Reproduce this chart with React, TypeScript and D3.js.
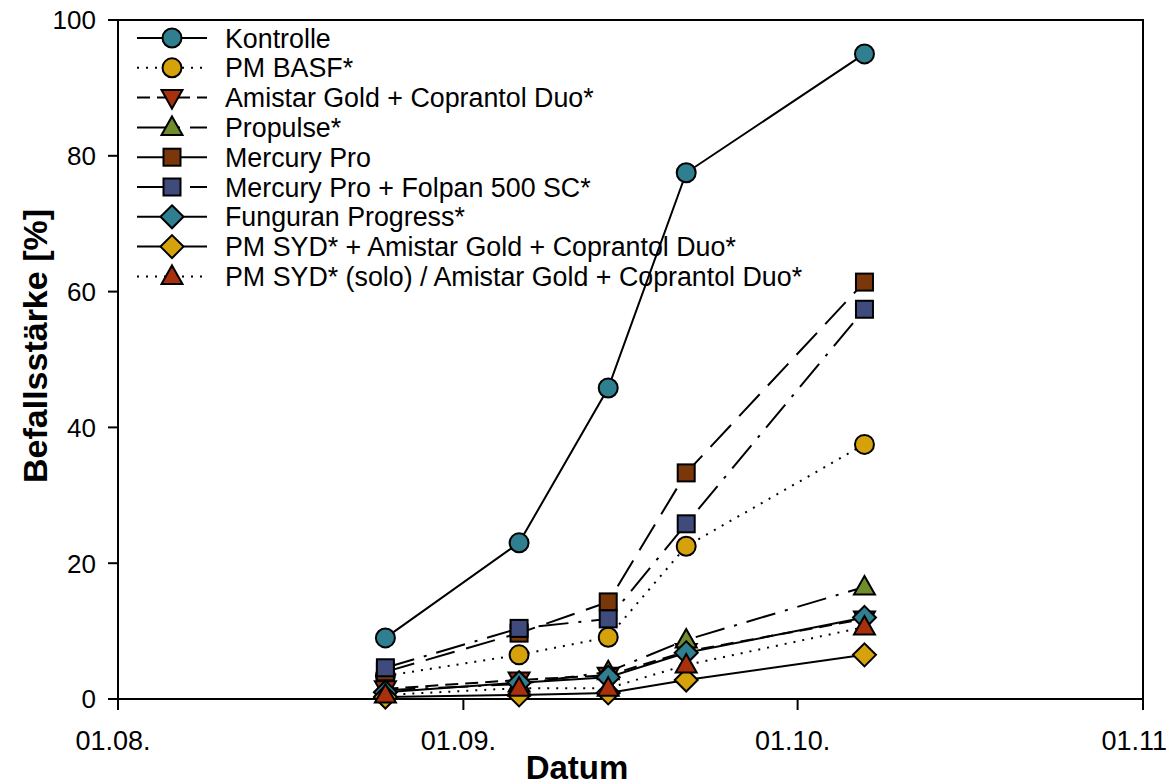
import React from "react";
import * as d3 from "d3";

const dates = ["2021-08-25", "2021-09-06", "2021-09-14", "2021-09-21", "2021-10-07"];

const seriesNames = [
  "Kontrolle",
  "PM BASF*",
  "Amistar Gold + Coprantol Duo*",
  "Propulse*",
  "Mercury Pro",
  "Mercury Pro + Folpan 500 SC*",
  "Funguran Progress*",
  "PM SYD* + Amistar Gold + Coprantol Duo*",
  "PM SYD* (solo) / Amistar Gold + Coprantol Duo*",
];

const kontrolle = [9.0, 23.0, 45.8, 77.5, 95.0];
const pmBasf = [3.4, 6.5, 9.1, 22.5, 37.5];
const amistar = [1.5, 2.8, 3.5, 7.0, 11.8];
const propulse = [1.3, 2.2, 4.0, 8.7, 16.5];
const mercuryPro = [4.0, 9.7, 14.3, 33.3, 61.4];
const mercuryFolpan = [4.6, 10.4, 11.8, 25.8, 57.4];
const funguran = [1.0, 2.4, 3.2, 6.8, 12.0];
const pmSydAmistar = [0.3, 0.6, 0.9, 2.8, 6.5];
const pmSydSolo = [0.6, 1.6, 1.6, 5.0, 10.6];

const seriesValues = [kontrolle, pmBasf, amistar, propulse, mercuryPro, mercuryFolpan, funguran, pmSydAmistar, pmSydSolo];

const yTicks = [0, 20, 40, 60, 80, 100];
const xTicks = ["2021-08-01", "2021-09-01", "2021-10-01", "2021-11-01"];

type Style = { shape: string; fill: string; dash: string };
const styles: Style[] = [
  { shape: "circle", fill: "#2F7F90", dash: "none" },
  { shape: "circle", fill: "#D6A20C", dash: "2,7" },
  { shape: "down", fill: "#A8300C", dash: "13,7" },
  { shape: "up", fill: "#6F8D2C", dash: "30,10,3,10" },
  { shape: "square", fill: "#7A380A", dash: "30,12" },
  { shape: "square", fill: "#3E4B7C", dash: "30,10,3,10" },
  { shape: "diamond", fill: "#2F7F90", dash: "none" },
  { shape: "diamond", fill: "#D6A20C", dash: "none" },
  { shape: "up", fill: "#A8300C", dash: "2,7" },
];

const W = 1169;
const H = 784;
const left = 118;
const right = 1143;
const top = 20;
const bottom = 699;

function Marker({ shape, x, y, fill }: { shape: string; x: number; y: number; fill: string }) {
  const common = { fill, stroke: "#000", strokeWidth: 2, strokeLinejoin: "miter" as const };
  if (shape === "circle") return <circle cx={x} cy={y} r={9.5} {...common} />;
  if (shape === "square") return <rect x={x - 8.5} y={y - 8.5} width={17} height={17} {...common} />;
  if (shape === "diamond")
    return <path d={`M${x},${y - 11.5}L${x + 11.5},${y}L${x},${y + 11.5}L${x - 11.5},${y}Z`} {...common} />;
  if (shape === "up")
    return <path d={`M${x},${y - 11}L${x + 10.5},${y + 7.5}L${x - 10.5},${y + 7.5}Z`} {...common} />;
  return <path d={`M${x},${y + 11}L${x + 10.5},${y - 7.5}L${x - 10.5},${y - 7.5}Z`} {...common} />;
}

export default function App() {
  const parse = d3.timeParse("%Y-%m-%d");
  const x = d3
    .scaleTime()
    .domain([parse("2021-08-01") as Date, parse("2021-11-01") as Date])
    .range([left, right]);
  const y = d3.scaleLinear().domain([0, 100]).range([bottom, top]);
  const fmt = d3.timeFormat("%d.%m.");
  const dts = dates.map((d) => parse(d) as Date);
  const line = d3
    .line<number>()
    .x((_, i) => x(dts[i]))
    .y((v) => y(v));

  const font = "Liberation Sans, Arial, sans-serif";
  const legendY0 = 38;
  const legendStep = 29.8;

  return (
    <svg
      width={W}
      height={H}
      style={{ position: "absolute", left: 0, top: 0, background: "#fff" }}
      fontFamily={font}
    >
      <rect x={0} y={0} width={W} height={H} fill="#fff" />
      <rect x={left} y={top} width={right - left} height={bottom - top} fill="none" stroke="#000" strokeWidth={2} />
      {yTicks.map((t) => (
        <g key={"y" + t}>
          <line x1={left - 10} x2={left} y1={y(t)} y2={y(t)} stroke="#000" strokeWidth={2} />
          <text x={left - 22} y={y(t)} dy="0.36em" textAnchor="end" fontSize={26}>
            {t}
          </text>
        </g>
      ))}
      {xTicks.map((t) => {
        const d = parse(t) as Date;
        return (
          <g key={"x" + t}>
            <line x1={x(d)} x2={x(d)} y1={bottom} y2={bottom + 11} stroke="#000" strokeWidth={2} />
            <text x={x(d) - 5} y={750} textAnchor="middle" fontSize={27}>
              {fmt(d)}
            </text>
          </g>
        );
      })}
      <text x={577} y={779} textAnchor="middle" fontSize={33} fontWeight="bold">
        Datum
      </text>
      <text
        transform={`translate(47, 346) rotate(-90)`}
        textAnchor="middle"
        fontSize={34}
        fontWeight="bold"
      >
        Befallsstärke [%]
      </text>
      {seriesValues.map((vals, si) => (
        <g key={"s" + si}>
          <path
            d={line(vals) || ""}
            fill="none"
            stroke="#000"
            strokeWidth={2}
            strokeDasharray={styles[si].dash}
          />
          {vals.map((v, i) => (
            <Marker key={i} shape={styles[si].shape} x={x(dts[i])} y={y(v)} fill={styles[si].fill} />
          ))}
        </g>
      ))}
      {seriesNames.map((name, si) => {
        const ly = legendY0 + si * legendStep;
        return (
          <g key={"l" + si}>
            <line x1={137} x2={207} y1={ly} y2={ly} stroke="#000" strokeWidth={2} strokeDasharray={styles[si].dash} />
            <Marker shape={styles[si].shape} x={172} y={ly} fill={styles[si].fill} />
            <text x={225} y={ly} dy="0.36em" fontSize={26.8}>
              {name}
            </text>
          </g>
        );
      })}
    </svg>
  );
}
